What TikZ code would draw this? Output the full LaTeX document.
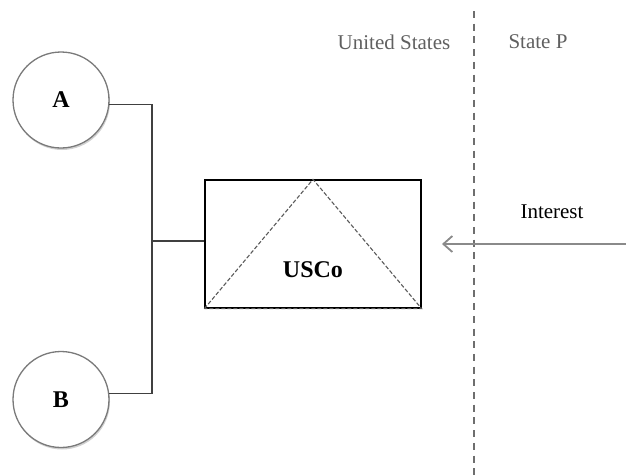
\documentclass[tikz,border=0pt]{standalone}
\usepackage{fontspec}
\setmainfont{Liberation Serif}
\usetikzlibrary{arrows.meta,shadows,calc}
\definecolor{ringgray}{HTML}{7A7A7A}
\definecolor{linkgray}{HTML}{404040}
\definecolor{divgray}{HTML}{6E6E6E}
\definecolor{textgray}{HTML}{606060}
\definecolor{flowgray}{HTML}{8A8A8A}
\definecolor{hybridgray}{HTML}{5A5A5A}
\tikzset{
  party/.style={circle, draw=ringgray, line width=1.3pt, fill=white, minimum size=96pt, inner sep=0pt,
    font=\fontsize{24}{26}\selectfont\bfseries,
    drop shadow={shadow xshift=1pt, shadow yshift=-2pt, opacity=0.18, fill=black}},
  link/.style={draw=linkgray, line width=1.3pt},
  entity/.style={draw=black, line width=1.3pt, minimum width=216pt, minimum height=128pt, inner sep=0pt},
  hybrid/.style={draw=hybridgray, line width=1.1pt, dash pattern=on 4pt off 2pt},
  divider/.style={draw=divgray, line width=1.6pt, dash pattern=on 7pt off 5.7pt},
  region/.style={text=textgray, font=\fontsize{21}{24}\selectfont},
  flow/.style={draw=flowgray, line width=1.4pt, -{Straight Barb[length=9pt,width=16pt,line width=1.8pt]}},
}
\begin{document}
\begin{tikzpicture}[x=1pt,y=-1pt]
  \useasboundingbox (0,0) rectangle (626,475);

  % shareholders
  \node[party] (A) at (61,100) {A};
  \node[party] (B) at (61,399.5) {B};

  % the US corporation, with its hybrid triangle
  \node[entity] (usco) at (313,244) {};
  \draw[hybrid] (usco.south west) -- (usco.north) -- (usco.south east) -- cycle;
  \node[font=\fontsize{24}{26}\selectfont\bfseries] (uscolabel) at (313,270) {USCo};

  % ownership bracket
  \coordinate (j) at (152,241);
  \draw[link] (A.-5) -| (j) |- (B.7);
  \draw[link] (j) -- (usco.west |- j);

  % jurisdiction boundary
  \coordinate (divtop) at (474,11);
  \coordinate (divbot) at (474,475);
  \draw[divider] (divtop) -- (divbot);
  \node[region] (us) at (394,42) {United States};
  \node[region] (sp) at (538,42) {State P};

  % interest payment
  \coordinate (src) at (626,244);
  \coordinate (dst) at (442,244);
  \draw[flow] (src) -- (dst);
  \node[font=\fontsize{21}{24}\selectfont] (int) at (552,212) {Interest};
\end{tikzpicture}
\end{document}
